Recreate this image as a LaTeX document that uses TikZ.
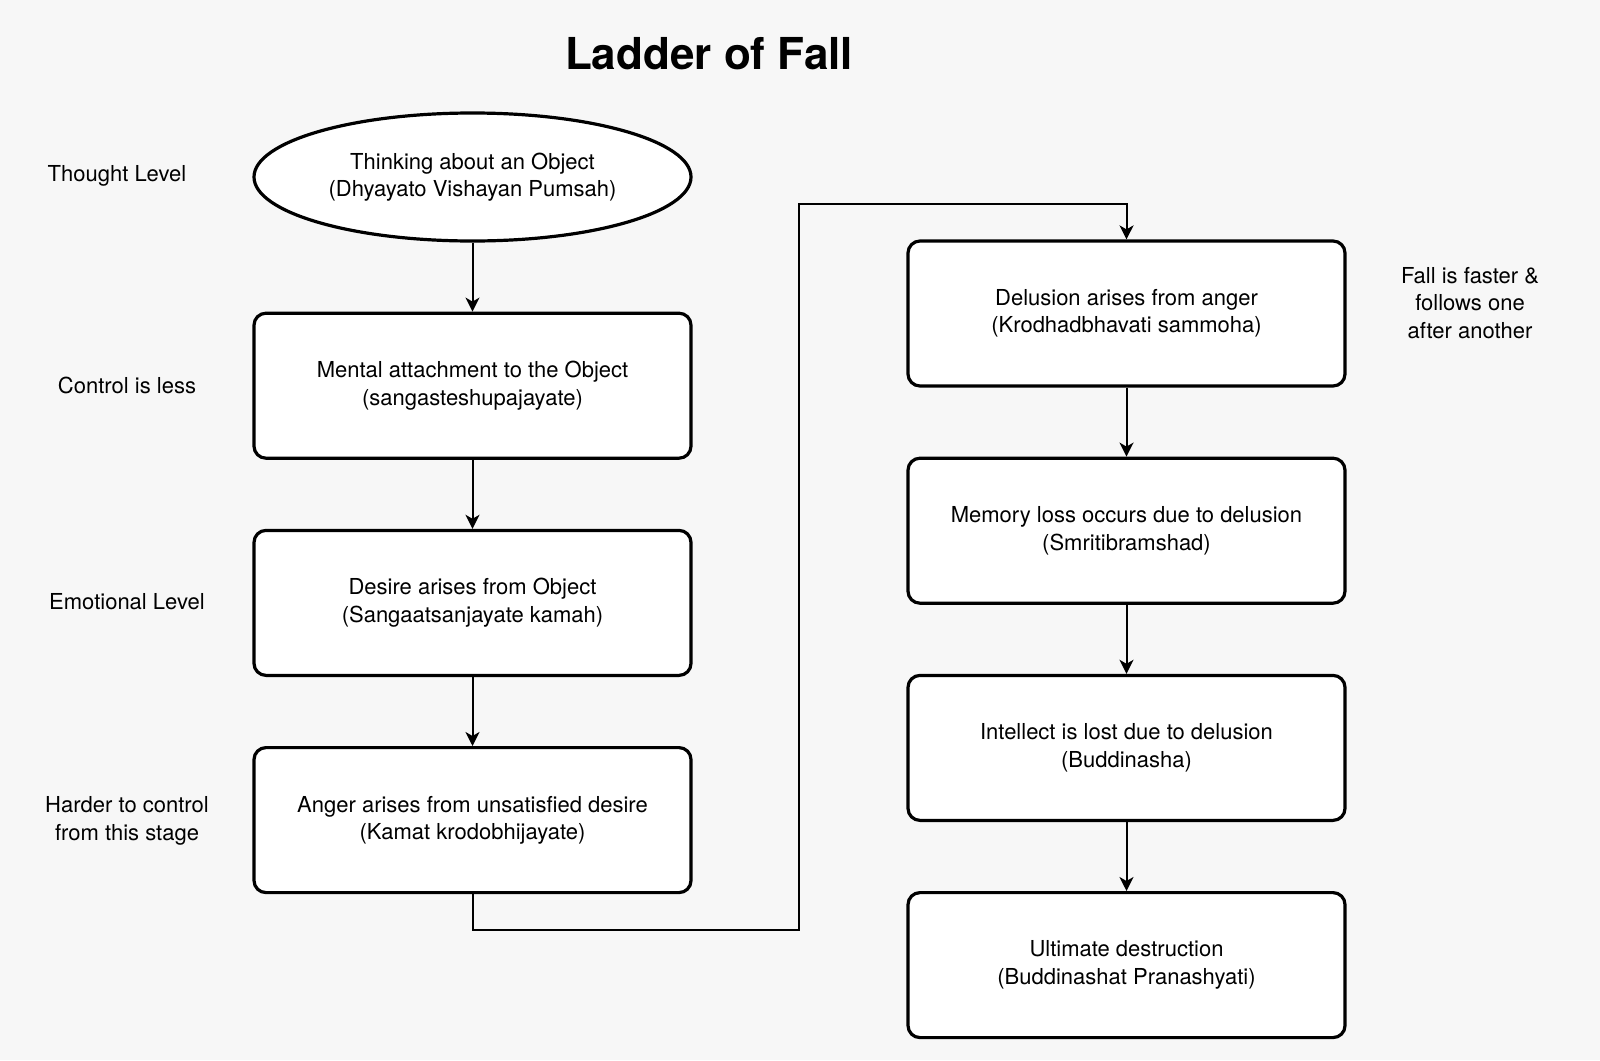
\documentclass[tikz,border=0pt]{standalone}
\usepackage{fontspec}
\setmainfont{TeX Gyre Heros}
\usetikzlibrary{arrows.meta,positioning,shapes.geometric}
\definecolor{canvas}{HTML}{F7F7F7}

\begin{document}
\begin{tikzpicture}[x=1pt, y=-1pt, node distance=69pt,
    every node/.style={align=center, font=\fontsize{22}{27.5}\selectfont},
    stage/.style={draw, line width=3.2pt, fill=white, rounded corners=12pt, minimum width=437pt, minimum height=145pt},
    thought/.style={draw, ellipse, line width=3.2pt, fill=white, minimum width=437pt, minimum height=128pt},
    flow/.style={-{Stealth[length=14pt, width=14pt, inset=4pt]}, line width=2pt}]
    % background and frame
    \fill[canvas] (0,0) rectangle (1600,1060);
    \node[font=\bfseries\fontsize{44}{52}\selectfont] (title) at (709,54) {Ladder of Fall};
    % left column
    \node[thought] (think) at (472.5,177) {Thinking about an Object\\(Dhyayato Vishayan Pumsah)};
    \node[stage, below=of think] (attach) {Mental attachment to the Object\\(sangasteshupajayate)};
    \node[stage, below=of attach] (desire) {Desire arises from Object\\(Sangaatsanjayate kamah)};
    \node[stage, below=of desire] (anger) {Anger arises from unsatisfied desire\\(Kamat krodobhijayate)};
    % right column
    \node[stage] (delusion) at (1126.5,313.5) {Delusion arises from anger\\(Krodhadbhavati sammoha)};
    \node[stage, below=of delusion] (memory) {Memory loss occurs due to delusion\\(Smritibramshad)};
    \node[stage, below=of memory] (intellect) {Intellect is lost due to delusion\\(Buddinasha)};
    \node[stage, below=of intellect] (ruin) {Ultimate destruction\\(Buddinashat Pranashyati)};
    % side notes
    \node (lvl1) at (117,176) {Thought Level};
    \node (lvl2) at (127,385) {Control is less};
    \node (lvl3) at (127,602) {Emotional Level};
    \node (lvl4) at (127,821) {Harder to control\\from this stage};
    \node (fast) at (1470,303) {Fall is faster \&\\follows one\\after another};
    % connectors
    \coordinate (low) at (799,930);
    \coordinate (high) at (799,204);
    \draw[flow] (think) -- (attach);
    \draw[flow] (attach) -- (desire);
    \draw[flow] (desire) -- (anger);
    \draw[flow] (anger.south) |- (low) -- (high) -| (delusion.north);
    \draw[flow] (delusion) -- (memory);
    \draw[flow] (memory) -- (intellect);
    \draw[flow] (intellect) -- (ruin);
\end{tikzpicture}
\end{document}
